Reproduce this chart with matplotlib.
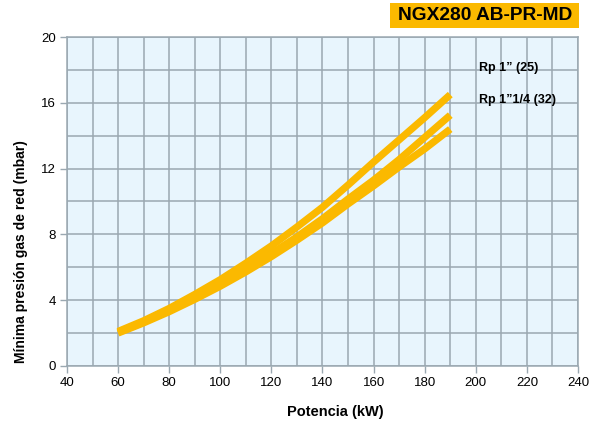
import matplotlib.pyplot as plt
from matplotlib.ticker import MultipleLocator
from matplotlib.patches import Rectangle

plt.rcParams['font.family'] = ['Liberation Sans', 'DejaVu Sans']

# potencia (kW)
potencia = [60, 70, 80, 90, 100, 110, 120, 130, 140, 150, 160, 170, 180, 190]
# minima presion gas de red (mbar) for the three curves
curva_alta = [2.1, 2.75, 3.5, 4.35, 5.25, 6.25, 7.3, 8.45, 9.65, 11.0, 12.4, 13.75, 15.1, 16.5]
curva_media = [2.05, 2.68, 3.38, 4.15, 4.98, 5.87, 6.83, 7.85, 8.95, 10.15, 11.3, 12.55, 13.9, 15.25]
curva_baja = [2.0, 2.62, 3.3, 4.05, 4.85, 5.72, 6.65, 7.65, 8.7, 9.85, 10.95, 12.1, 13.2, 14.4]

etiquetas = ['Rp 1\u201d (25)', 'Rp 1\u201d1/4 (32)']
titulo = 'NGX280 AB-PR-MD'

amarillo = '#fbb900'
gris = '#9aa8b1'

fig = plt.figure(figsize=(6.05, 4.23), dpi=100)
ax = fig.add_axes([0.1107, 0.1348, 0.8447, 0.7777])
ax.set_facecolor('#e8f5fd')

for ys in (curva_baja, curva_media, curva_alta):
    ax.plot(potencia, ys, color=amarillo, linewidth=5.2, solid_capstyle='butt', zorder=3)

ax.set_xlim(40, 240)
ax.set_ylim(0, 20)
ax.xaxis.set_major_locator(MultipleLocator(20))
ax.yaxis.set_major_locator(MultipleLocator(4))
ax.xaxis.set_minor_locator(MultipleLocator(10))
ax.yaxis.set_minor_locator(MultipleLocator(2))
ax.grid(which='both', color=gris, linewidth=1.1, zorder=1)
ax.set_axisbelow(True)
ax.tick_params(which='major', direction='out', length=5, width=1, color=gris,
               labelsize=9.5, pad=3)
ax.tick_params(which='minor', length=0)
for s in ax.spines.values():
    s.set_color(gris)
    s.set_linewidth(1.1)

ax.set_xlabel('Potencia (kW)', fontsize=10.5, fontweight='bold', va='center', ha='center')
ax.xaxis.set_label_coords(0.525, -0.139)
ax.set_ylabel('M\u00ednima presi\u00f3n gas de red (mbar)', fontsize=10,
              fontweight='bold', va='center', ha='center')
ax.yaxis.set_label_coords(-0.09, 0.347)

ax.text(201.3, 18.1, etiquetas[0], fontsize=9, fontweight='bold', va='center')
ax.text(201.3, 16.15, etiquetas[1], fontsize=9, fontweight='bold', va='center')

fig.patches.append(Rectangle((390 / 605, 1 - 28 / 423), 189 / 605, 25 / 423,
                             transform=fig.transFigure, facecolor=amarillo,
                             edgecolor='none'))
fig.text(485 / 605, 1 - 15.5 / 423, titulo, fontsize=13.8, fontweight='bold',
         ha='center', va='center')

plt.savefig('out.png', dpi=100)
